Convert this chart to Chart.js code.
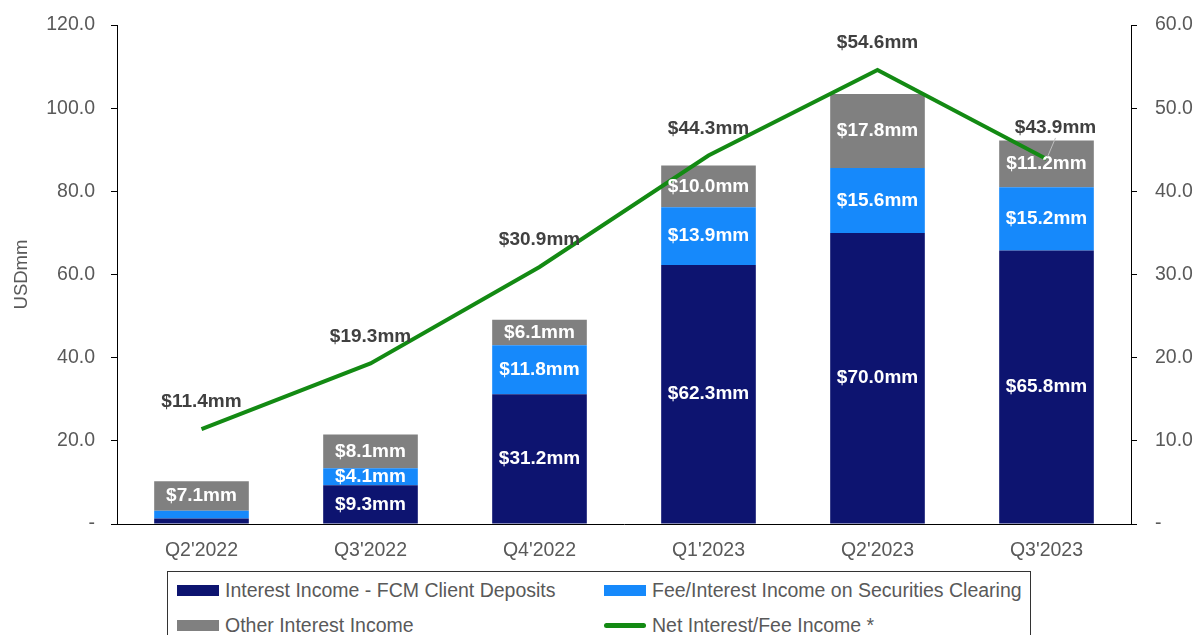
<!DOCTYPE html>
<html lang="en">
<head>
    <meta charset="UTF-8">
    <title>Net Interest / Fee Income</title>
    <script src="https://cdn.jsdelivr.net/npm/chart.js"></script>
    <style>
        body {
            margin: 0;
            padding: 0;
            background: #ffffff;
            font-family: Arial, "Liberation Sans", sans-serif;
        }
        .wrap {
            position: relative;
            width: 1196px;
            height: 635px;
            overflow: hidden;
        }
        .chart-box {
            position: absolute;
            left: 0;
            top: 0;
            width: 1196px;
            height: 565px;
        }
        /* boxed legend under the plot */
        .legend {
            position: absolute;
            left: 167px;
            top: 571px;
            width: 862px;
            height: 80px;
            border: 1px solid #333;
            border-bottom: none;
            overflow: hidden;
            color: #595959;
            font-size: 19.5px;
        }
        .legend .item {
            position: absolute;
            white-space: nowrap;
            display: flex;
            align-items: center;
        }
        .legend .swatch {
            display: inline-block;
            width: 42px;
            height: 11px;
            margin-right: 6px;
        }
        .legend .swatch.line {
            height: 5px;
            border-radius: 3px;
        }
    </style>
</head>
<body>
<div class="wrap">
    <div class="chart-box"><canvas id="incomeChart"></canvas></div>
    <div class="legend" id="legend"></div>
</div>

<script>
    // values (USD mm)
    const quarters = ["Q2'2022", "Q3'2022", "Q4'2022", "Q1'2023", "Q2'2023", "Q3'2023"];
    const fcmDeposits = [1.3, 9.3, 31.2, 62.3, 70.0, 65.8];
    const securitiesClearing = [1.9, 4.1, 11.8, 13.9, 15.6, 15.2];
    const otherInterest = [7.1, 8.1, 6.1, 10.0, 17.8, 11.2];
    const netIncome = [11.4, 19.3, 30.9, 44.3, 54.6, 43.9];
    const leftTicks = [0, 20, 40, 60, 80, 100, 120];
    const rightTicks = [0, 10, 20, 30, 40, 50, 60];

    const NAVY = '#0d1470';
    const BLUE = '#1689fb';
    const GREY = '#808080';
    const GREEN = '#138a13';
    const TICK_GREY = '#595959';
    const FONT = 'Arial, "Liberation Sans", sans-serif';

    const money = v => '$' + v.toFixed(1) + 'mm';
    const tickFmt = v => v === 0 ? '-' : v.toFixed(1);

    // white labels inside the bar pieces, dark labels above the line
    const valueLabels = {
        id: 'valueLabels',
        afterDatasetsDraw(chart) {
            const ctx = chart.ctx;
            ctx.save();
            ctx.textAlign = 'center';
            ctx.textBaseline = 'middle';
            chart.data.datasets.forEach((ds, i) => {
                const meta = chart.getDatasetMeta(i);
                meta.data.forEach((el, j) => {
                    const v = ds.data[j];
                    if (ds.type === 'line') {
                        ctx.font = 'bold 19px ' + FONT;
                        ctx.fillStyle = '#404040';
                        let dx = 0, dy = -27;
                        if (j === quarters.length - 1) {
                            dx = 9; dy = -31;
                            ctx.strokeStyle = '#bfbfbf';
                            ctx.lineWidth = 1;
                            ctx.beginPath();
                            ctx.moveTo(el.x + 1, el.y - 2);
                            ctx.lineTo(el.x + 9, el.y - 21);
                            ctx.stroke();
                        }
                        ctx.fillText(money(v), el.x + dx, el.y + dy);
                    } else {
                        const h = Math.abs(el.base - el.y);
                        if (h < 16) return;
                        ctx.font = 'bold 19px ' + FONT;
                        ctx.fillStyle = '#ffffff';
                        ctx.fillText(money(v), el.x, (el.y + el.base) / 2);
                    }
                });
            });
            ctx.restore();
        }
    };

    const barSet = (label, data, color) => ({
        type: 'bar',
        label: label,
        data: data,
        backgroundColor: color,
        yAxisID: 'y',
        stack: 'income',
        order: 2,
        categoryPercentage: 1.0,
        barPercentage: 0.56
    });

    const ctx = document.getElementById('incomeChart').getContext('2d');
    const chart = new Chart(ctx, {
        data: {
            labels: quarters,
            datasets: [
                barSet('Interest Income - FCM Client Deposits', fcmDeposits, NAVY),
                barSet('Fee/Interest Income on Securities Clearing', securitiesClearing, BLUE),
                barSet('Other Interest Income', otherInterest, GREY),
                {
                    type: 'line',
                    label: 'Net Interest/Fee Income *',
                    data: netIncome,
                    borderColor: GREEN,
                    backgroundColor: GREEN,
                    borderWidth: 4,
                    pointRadius: 0,
                    tension: 0,
                    yAxisID: 'y1',
                    order: 1
                }
            ]
        },
        options: {
            responsive: true,
            maintainAspectRatio: false,
            animation: false,
            layout: { padding: { top: 25, right: 0, left: 0, bottom: 0 } },
            plugins: {
                legend: { display: false },
                tooltip: { enabled: false }
            },
            scales: {
                x: {
                    stacked: true,
                    grid: { display: false },
                    border: { color: '#000', width: 1 },
                    ticks: {
                        color: TICK_GREY,
                        font: { size: 19.5, family: FONT },
                        padding: 7
                    },
                    afterFit(scale) { scale.height = 41; }
                },
                y: {
                    stacked: true,
                    position: 'left',
                    min: 0,
                    max: 120,
                    afterBuildTicks(scale) { scale.ticks = leftTicks.map(v => ({ value: v })); },
                    grid: { drawOnChartArea: false, tickLength: 6, color: '#000' },
                    border: { color: '#000', width: 1 },
                    ticks: {
                        color: TICK_GREY,
                        font: { size: 19.5, family: FONT },
                        padding: 16,
                        callback: tickFmt
                    },
                    title: {
                        display: true,
                        text: 'USDmm',
                        color: TICK_GREY,
                        font: { size: 18.5, family: FONT },
                        padding: { top: 11, bottom: 0 }
                    },
                    afterFit(scale) {
                        scale.width = 117;
                        scale.paddingTop = 0;
                        scale.paddingBottom = 0;
                    }
                },
                y1: {
                    position: 'right',
                    min: 0,
                    max: 60,
                    afterBuildTicks(scale) { scale.ticks = rightTicks.map(v => ({ value: v })); },
                    grid: { drawOnChartArea: false, tickLength: 6, color: '#000' },
                    border: { color: '#000', width: 1 },
                    ticks: {
                        color: TICK_GREY,
                        font: { size: 19.5, family: FONT },
                        padding: 18,
                        callback: tickFmt
                    },
                    afterFit(scale) {
                        scale.width = 65;
                        scale.paddingTop = 0;
                        scale.paddingBottom = 0;
                    }
                }
            }
        },
        plugins: [valueLabels]
    });

    // boxed legend, two columns, built from the datasets
    const legendEl = document.getElementById('legend');
    const spots = [[9, 7], [436, 7], [9, 42], [436, 42]];
    chart.data.datasets.forEach((ds, i) => {
        const item = document.createElement('div');
        item.className = 'item';
        item.style.left = spots[i][0] + 'px';
        item.style.top = spots[i][1] + 'px';
        const sw = document.createElement('span');
        sw.className = 'swatch' + (ds.type === 'line' ? ' line' : '');
        sw.style.background = ds.type === 'line' ? ds.borderColor : ds.backgroundColor;
        item.appendChild(sw);
        item.appendChild(document.createTextNode(ds.label));
        legendEl.appendChild(item);
    });
</script>
</body>
</html>
